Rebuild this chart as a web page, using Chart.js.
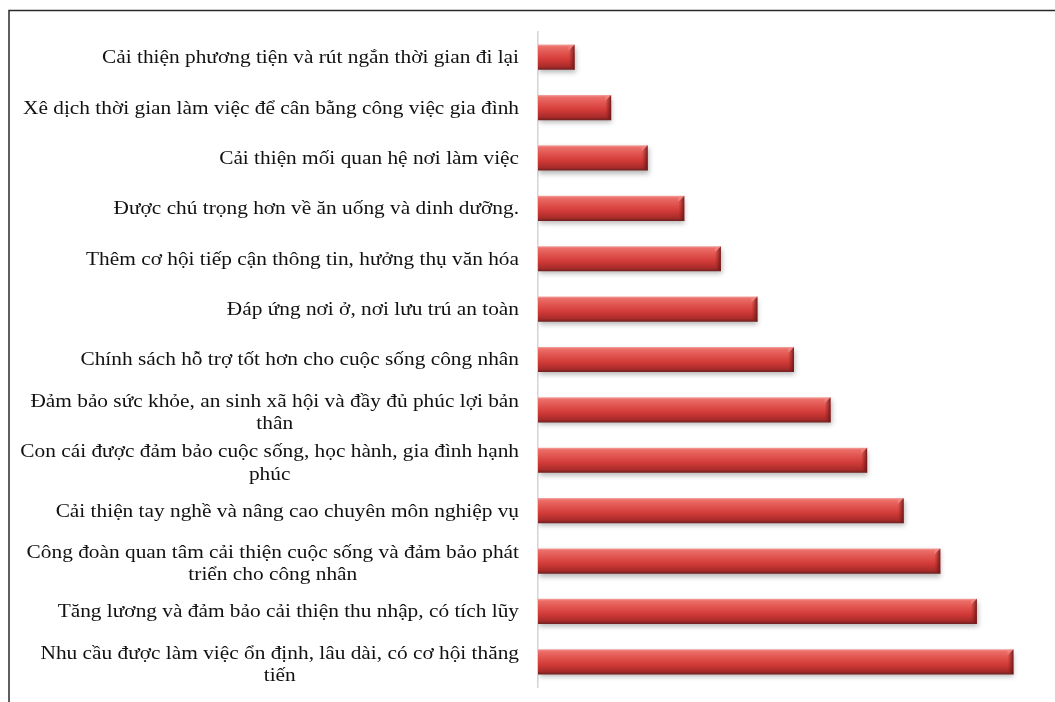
<!DOCTYPE html>
<html>
<head>
<meta charset="utf-8">
<script src="https://cdn.jsdelivr.net/npm/chart.js@4.4.1/dist/chart.umd.min.js"></script>
<style>
  html, body { margin: 0; padding: 0; background: #fff; }
  #wrap { position: relative; width: 1055px; height: 702px; }
</style>
</head>
<body>
<div id="wrap"><canvas id="myChart" width="1055" height="702"></canvas></div>
<script>
const categories = [
  ["Cải thiện phương tiện và rút ngắn thời gian đi lại"],
  ["Xê dịch thời gian làm việc để cân bằng công việc gia đình"],
  ["Cải thiện mối quan hệ nơi làm việc"],
  ["Được chú trọng hơn về ăn uống và dinh dưỡng."],
  ["Thêm cơ hội tiếp cận thông tin, hưởng thụ văn hóa"],
  ["Đáp ứng nơi ở, nơi lưu trú an toàn"],
  ["Chính sách hỗ trợ tốt hơn cho cuộc sống công nhân"],
  ["Đảm bảo sức khỏe, an sinh xã hội và đầy đủ phúc lợi bản", "thân"],
  ["Con cái được đảm bảo cuộc sống, học hành, gia đình hạnh", "phúc"],
  ["Cải thiện tay nghề và nâng cao chuyên môn nghiệp vụ"],
  ["Công đoàn quan tâm cải thiện cuộc sống và đảm bảo phát", "triển cho công nhân"],
  ["Tăng lương và đảm bảo cải thiện thu nhập, có tích lũy"],
  ["Nhu cầu được làm việc ổn định, lâu dài, có cơ hội thăng", "tiến"]
];
const values = [1, 2, 3, 4, 5, 6, 7, 8, 9, 10, 11, 12, 13];
const axisMax = 14;

const LABEL_FONT = '19px "Liberation Serif", "Times New Roman", serif';
const LABEL_STRETCH = 1.123; // source text is a bit wider than the font

function barGradient(context) {
  const chart = context.chart;
  const area = chart.chartArea;
  if (!area) return "#d43c3a";
  const yScale = chart.scales.y;
  const y = yScale.getPixelForValue(context.dataIndex);
  const half = (area.height / categories.length) * 0.5 / 2;
  const g = chart.ctx.createLinearGradient(0, y - half, 0, y + half);
  g.addColorStop(0, "#f3a7a3");
  g.addColorStop(0.08, "#ec6f69");
  g.addColorStop(0.35, "#e0524d");
  g.addColorStop(0.6, "#d23b38");
  g.addColorStop(0.88, "#a82b2a");
  g.addColorStop(1, "#6e2020");
  return g;
}

// soft shadow under the bars
const shadowPlugin = {
  id: "barShadow",
  beforeDatasetsDraw(chart) {
    const ctx = chart.ctx;
    ctx.save();
    ctx.shadowColor = "rgba(0,0,0,0.28)";
    ctx.shadowBlur = 5;
    ctx.shadowOffsetX = 1;
    ctx.shadowOffsetY = 3;
  },
  afterDatasetsDraw(chart) {
    const ctx = chart.ctx;
    ctx.restore();
    // bevel on the right end of every bar
    const meta = chart.getDatasetMeta(0);
    meta.data.forEach((bar) => {
      const right = bar.x;
      const top = bar.y - bar.height / 2;
      const bottom = bar.y + bar.height / 2;
      const w = 6;
      ctx.save();
      const g = ctx.createLinearGradient(right - w, 0, right, 0);
      g.addColorStop(0, "rgba(150,30,30,0.0)");
      g.addColorStop(1, "rgba(100,22,22,0.9)");
      ctx.fillStyle = g;
      ctx.beginPath();
      ctx.moveTo(right - w, top + w);
      ctx.lineTo(right, top);
      ctx.lineTo(right, bottom);
      ctx.lineTo(right - w, bottom - 2);
      ctx.closePath();
      ctx.fill();
      ctx.fillStyle = "rgba(240,140,135,0.6)";
      ctx.beginPath();
      ctx.moveTo(right - w, top + 1);
      ctx.lineTo(right, top);
      ctx.lineTo(right - w, top + w);
      ctx.closePath();
      ctx.fill();
      ctx.restore();
    });
  }
};

// category labels: right aligned block, lines centred inside it
const labelPlugin = {
  id: "blockLabels",
  afterDraw(chart) {
    const ctx = chart.ctx;
    const yScale = chart.scales.y;
    const rightEdge = 519;
    const lineH = 22.5;
    ctx.save();
    ctx.font = LABEL_FONT;
    ctx.fillStyle = "#111";
    ctx.textAlign = "center";
    ctx.textBaseline = "middle";
    categories.forEach((lines, i) => {
      const y = yScale.getPixelForValue(i);
      const maxW = Math.max(...lines.map((l) => ctx.measureText(l).width));
      const multi = lines.length > 1 ? 2 : 0;
      const y0 = y - ((lines.length - 1) * lineH) / 2 + 1 + multi;
      ctx.save();
      ctx.translate(rightEdge, 0);
      ctx.scale(LABEL_STRETCH, 1);
      lines.forEach((l, k) => ctx.fillText(l, -maxW / 2, y0 + k * lineH));
      ctx.restore();
    });
    ctx.restore();
  }
};

// outer frame like the source figure
const framePlugin = {
  id: "frame",
  beforeDraw(chart) {
    const ctx = chart.ctx;
    ctx.save();
    ctx.fillStyle = "#fff";
    ctx.fillRect(0, 0, chart.width, chart.height);
    ctx.strokeStyle = "#2a2a2a";
    ctx.lineWidth = 1.5;
    ctx.beginPath();
    ctx.moveTo(9, chart.height);
    ctx.lineTo(9, 10.5);
    ctx.lineTo(chart.width, 10.5);
    ctx.stroke();
    ctx.restore();
  }
};

new Chart(document.getElementById("myChart"), {
  type: "bar",
  data: {
    labels: categories,
    datasets: [{
      data: values,
      backgroundColor: barGradient,
      borderWidth: 0,
      categoryPercentage: 1,
      barPercentage: 0.5
    }]
  },
  options: {
    indexAxis: "y",
    responsive: false,
    animation: false,
    layout: { padding: { left: 0, top: 32, right: 5, bottom: 15 } },
    plugins: {
      legend: { display: false },
      tooltip: { enabled: false }
    },
    scales: {
      x: {
        display: false,
        min: 0,
        max: axisMax
      },
      y: {
        ticks: { display: false },
        grid: { display: false, drawTicks: false },
        border: { display: true, color: "#d4d4d4", width: 1.5 },
        afterFit(scale) { scale.width = 538; }
      }
    }
  },
  plugins: [framePlugin, shadowPlugin, labelPlugin]
});
</script>
</body>
</html>
